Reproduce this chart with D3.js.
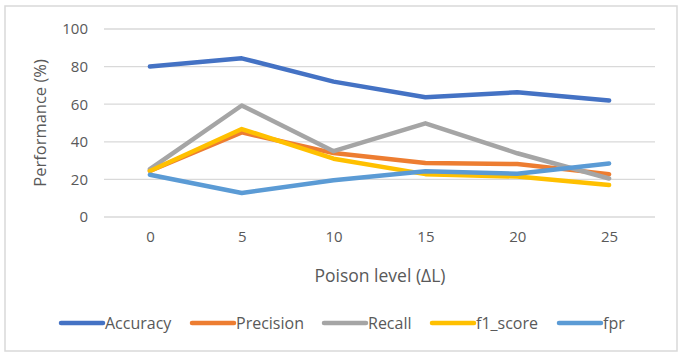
<!DOCTYPE html>
<html><head><meta charset="utf-8">
<script src="https://cdn.jsdelivr.net/npm/d3@7"></script>
<style>body{margin:0;background:#fff}svg{display:block}text{font-family:"Open Sans","Noto Sans",sans-serif;fill:#595959}</style>
</head><body>
<script>
const categories = ["0","5","10","15","20","25"];
const accuracy  = [80, 84.4, 72, 63.7, 66.3, 62];
const precision = [24.5, 45, 34, 28.7, 28.2, 22.8];
const recall    = [25.5, 59.3, 35, 49.8, 33.9, 20.5];
const f1Score   = [24.5, 46.8, 31, 22.8, 21.5, 17];
const fpr       = [22.5, 12.8, 19.5, 24.3, 23, 28.5];
const seriesNames = ["Accuracy","Precision","Recall","f1_score","fpr"];
const yTicks = [0,20,40,60,80,100];

const colors = ["#4472C4","#ED7D31","#A5A5A5","#FFC000","#5B9BD5"];
const seriesData = [accuracy, precision, recall, f1Score, fpr];

const W = 682, H = 358;
const svg = d3.select("body").append("svg").attr("width", W).attr("height", H);
svg.append("rect").attr("x",5).attr("y",6).attr("width",672).attr("height",345)
  .attr("fill","#fff").attr("stroke","#d9d9d9").attr("stroke-width",1.5);

const x = d3.scalePoint().domain(categories).range([104,655]).padding(0.5);
const y = d3.scaleLinear().domain([0,100]).range([217,29]);

// gridlines
svg.append("g").selectAll("line").data(yTicks).join("line")
  .attr("x1",104).attr("x2",655).attr("y1",d=>y(d)).attr("y2",d=>y(d))
  .attr("stroke","#d9d9d9").attr("stroke-width",1.3);

// y axis labels
const yAxis = d3.axisLeft(y).tickValues(yTicks).tickSize(0).tickPadding(0);
const gy = svg.append("g").attr("transform","translate(88,0)").call(yAxis);
gy.select(".domain").remove();
gy.selectAll("text").style("font-size","15px").style("fill","#595959").style("font-family",null);

// x axis labels
const xAxis = d3.axisBottom(x).tickSize(0).tickPadding(0);
const gx = svg.append("g").attr("transform","translate(0,231)").call(xAxis);
gx.select(".domain").remove();
gx.selectAll("text").style("font-size","15px").style("fill","#595959").style("font-family",null);

// titles
svg.append("text").attr("x",380).attr("y",282).attr("text-anchor","middle")
  .style("font-size","17.5px").text("Poison level (ΔL)");
svg.append("text").attr("transform","translate(46,123) rotate(-90)").attr("text-anchor","middle")
  .style("font-size","16.5px").text("Performance (%)");

// lines
const line = d3.line().x((d,i)=>x(categories[i])).y(d=>y(d));
svg.append("g").selectAll("path").data(seriesData).join("path")
  .attr("d", d=>line(d)).attr("fill","none")
  .attr("stroke",(d,i)=>colors[i]).attr("stroke-width",4.5)
  .attr("stroke-linecap","round").attr("stroke-linejoin","round");

// legend
const legendX = [61,192,324,432,559];
const lg = svg.append("g").selectAll("g").data(seriesNames).join("g")
  .attr("transform",(d,i)=>`translate(${legendX[i]},323)`);
lg.append("line").attr("x1",0).attr("x2",42).attr("y1",0).attr("y2",0)
  .attr("stroke",(d,i)=>colors[i]).attr("stroke-width",4.5).attr("stroke-linecap","round");
lg.append("text").attr("x",44).attr("y",5.5).style("font-size","16px").text(d=>d);
</script>
</body></html>
